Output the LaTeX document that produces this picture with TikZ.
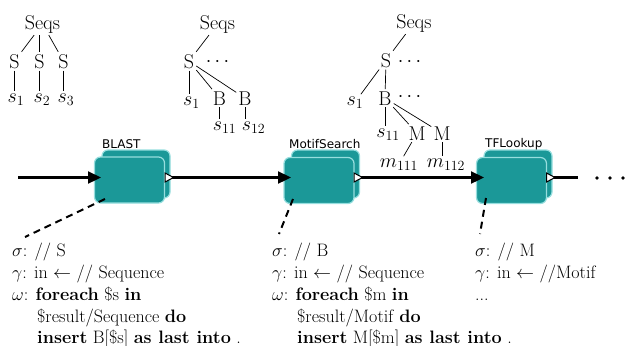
\RequirePackage{fix-cm}
\documentclass[tikz,border=0pt]{standalone}
\usepackage{fontspec}
\newfontfamily\labelfont{DejaVu Sans}
\usetikzlibrary{arrows.meta}
\definecolor{boxfill}{RGB}{27,152,152}
\definecolor{boxedge}{RGB}{150,222,222}
\tikzset{
  tree/.style={font=\fontsize{20bp}{24bp}\selectfont, inner sep=2bp, anchor=base},
  dotsnode/.style={font=\fontsize{20bp}{24bp}\selectfont, inner sep=0bp, anchor=center},
  txt/.style={font=\fontsize{18bp}{21.8bp}\selectfont, inner sep=0bp, anchor=base west},
  tedge/.style={line width=0.7bp},
  frontbox/.style={fill=boxfill, draw=boxedge, line width=1.2bp, rounded corners=6bp,
    minimum width=70bp, minimum height=46bp, inner sep=0bp},
  backbox/.style={fill=boxfill, draw=boxedge, line width=1.2bp, rounded corners=6bp,
    minimum width=68bp, minimum height=48bp, inner sep=0bp},
  boxlabel/.style={font=\labelfont\fontsize{12bp}{14bp}\selectfont, inner sep=0bp, anchor=base west},
  flow/.style={line width=2.3bp, -{Triangle[length=13bp,width=12bp]}},
  plainflow/.style={line width=2.3bp},
  outport/.style={fill=white, draw=black, line width=1bp},
  dashconn/.style={line width=2bp, dash pattern=on 7bp off 5bp},
}
\begin{document}
\begin{tikzpicture}[x=1bp,y=-1bp]
\path[use as bounding box] (0,0) rectangle (626,345);

% ---------- tree 1 ----------
\node[tree] (t1r) at (42.5,29) {Seqs};
\node[tree] (t1a) at (14.5,68) {S};
\node[tree] (t1b) at (39.5,68) {S};
\node[tree] (t1c) at (63.5,68) {S};
\node[tree] (t1s1) at (16,102) {$s_1$};
\node[tree] (t1s2) at (42,102) {$s_2$};
\node[tree] (t1s3) at (66,102) {$s_3$};
\draw[tedge] (t1r) -- (t1a);
\draw[tedge] (t1r.south -| t1b) -- (t1b.north);
\draw[tedge] (t1r) -- (t1c);
\draw[tedge] (t1a.south) -- (t1a.south |- t1s1.north);
\draw[tedge] (t1b.south) -- (t1b.south |- t1s2.north);
\draw[tedge] (t1c.south) -- (t1c.south |- t1s3.north);

% ---------- tree 2 ----------
\node[tree] (t2r) at (217.5,29) {Seqs};
\node[tree] (t2s) at (189,68) {S};
\node[dotsnode] (t2d) at (217.5,62) {$\cdots$};
\node[tree] (t2s1) at (191.5,105) {$s_1$};
\node[tree] (t2b1) at (219.5,105) {B};
\node[tree] (t2b2) at (245,105) {B};
\node[tree] (t2s11) at (224.5,130) {$s_{11}$};
\node[tree] (t2s12) at (253.5,130) {$s_{12}$};
\draw[tedge] (t2r) -- (t2s);
\draw[tedge] (t2s.south) -- (t2s.south |- t2s1.north);
\draw[tedge] (t2s) -- (t2b1);
\draw[tedge] (t2s) -- (t2b2);
\draw[tedge] (t2b1.south) -- (t2b1.south |- t2s11.north);
\draw[tedge] (t2b2.south) -- (t2b2.south |- t2s12.north);

% ---------- tree 3 ----------
\node[tree] (t3r) at (414,28) {Seqs};
\node[tree] (t3s) at (386,67) {S};
\node[dotsnode] (t3d1) at (409.5,62) {$\cdots$};
\node[tree] (t3s1) at (355,105) {$s_1$};
\node[tree] (t3b) at (385,105) {B};
\node[dotsnode] (t3d2) at (409.5,97) {$\cdots$};
\node[tree] (t3s11) at (388,137) {$s_{11}$};
\node[tree] (t3m1) at (417,140) {M};
\node[tree] (t3m2) at (442,140) {M};
\node[tree] (t3m111) at (399,167) {$m_{111}$};
\node[tree] (t3m112) at (446,167) {$m_{112}$};
\draw[tedge] (t3r) -- (t3s);
\draw[tedge] (t3s) -- (t3s1);
\draw[tedge] (t3s) -- (t3b);
\draw[tedge] (t3b.south) -- (t3b.south |- t3s11.north);
\draw[tedge] (t3b) -- (t3m1);
\draw[tedge] (t3b) -- (t3m2);
\draw[tedge] (t3m1) -- (t3m111);
\draw[tedge] (t3m2.south) -- (t3m2.south |- t3m112.north);

% ---------- boxes ----------
\node[backbox] (blastback) at (136,174) {};
\node[frontbox] (blast) at (129.5,180) {};
\node[boxlabel] (blastlbl) at (102,148) {BLAST};

\node[backbox] (motifback) at (325.5,174) {};
\node[frontbox] (motif) at (319,180.5) {};
\node[boxlabel] (motiflbl) at (289,148) {MotifSearch};

\node[backbox] (tfback) at (518,174) {};
\node[frontbox] (tf) at (511.5,180.5) {};
\node[boxlabel] (tflbl) at (485,147) {TFLookup};

% ports
\coordinate (start) at (18,177.5);
\coordinate (b1in) at (101,177.5);
\coordinate (b1out) at (165,177.5);
\coordinate (b2in) at (291,177.5);
\coordinate (b2out) at (354,177.5);
\coordinate (b3in) at (484,177.5);
\coordinate (b3out) at (546.5,177.5);
\coordinate (finish) at (578,177.5);

\draw[flow] (start) -- (b1in);
\draw[flow] (b1out) -- (b2in);
\draw[flow] (b2out) -- (b3in);
\draw[plainflow] (b3out) -- (finish);

\draw[outport] (b1out) -- ++(0,-4.5) -- ++(8.5,4.5) -- ++(-8.5,4.5) -- cycle;
\draw[outport] (b2out) -- ++(0,-4.5) -- ++(8.5,4.5) -- ++(-8.5,4.5) -- cycle;
\draw[outport] (b3out) -- ++(0,-4.5) -- ++(8.5,4.5) -- ++(-8.5,4.5) -- cycle;

\fill (597,178) circle (1.8bp);
\fill (610,178) circle (1.8bp);
\fill (623,178) circle (1.8bp);

% ---------- annotations ----------
\node[txt] (a1) at (12,256) {$\sigma$: // S};
\node[txt] (a2) at (12,278) {$\gamma$: in $\leftarrow$ // Sequence};
\node[txt] (a3) at (12,300) {$\omega$: \textbf{foreach} \$s \textbf{in}};
\node[txt] (a4) at (37,322) {\$result/Sequence \textbf{do}};
\node[txt] (a5) at (37,343) {\textbf{insert} B[\$s] \textbf{as last into} .};

\node[txt] (b1) at (272,256) {$\sigma$: // B};
\node[txt] (b2) at (272,278) {$\gamma$: in $\leftarrow$ // Sequence};
\node[txt] (b3) at (272,300) {$\omega$: \textbf{foreach} \$m \textbf{in}};
\node[txt] (b4) at (297,322) {\$result/Motif \textbf{do}};
\node[txt] (b5) at (297,343) {\textbf{insert} M[\$m] \textbf{as last into} .};

\node[txt] (c1) at (475,256) {$\sigma$: // M};
\node[txt] (c2) at (475,278) {$\gamma$: in $\leftarrow$ //Motif};
\node[txt] (c3) at (475,300) {...};

\coordinate (d1top) at (105,199);
\coordinate (d1bot) at (25,237);
\coordinate (d2top) at (293,199);
\coordinate (d2bot) at (279,234);
\coordinate (d3top) at (486,198);
\coordinate (d3bot) at (480,234);
\draw[dashconn] (d1top) -- (d1bot);
\draw[dashconn] (d2top) -- (d2bot);
\draw[dashconn] (d3top) -- (d3bot);
\end{tikzpicture}
\end{document}
